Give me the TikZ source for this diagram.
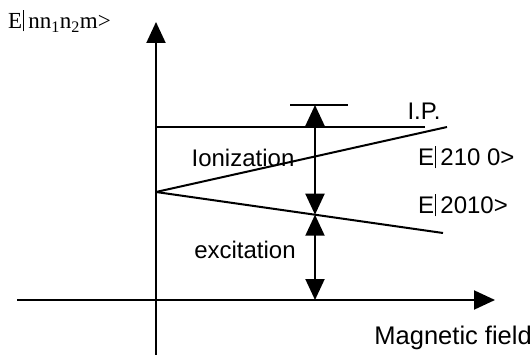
\documentclass[tikz,border=0pt]{standalone}
\usepackage{fontspec}
\setmainfont{Liberation Sans}
\newfontfamily\serifE{Liberation Serif}
\usetikzlibrary{arrows.meta}
\newcommand{\kbar}{\kern0.5pt\rule[-0.12em]{0.7pt}{0.95em}\kern1pt}
\tikzset{
  ln/.style={line width=2pt},
  tip/.style={-{Triangle[length=21pt,width=19pt]}},
  dtip/.style={{Triangle[length=21pt,width=19pt]}-{Triangle[length=21pt,width=19pt]}},
  lbl/.style={inner sep=0pt, font=\fontsize{24}{28}\selectfont}
}
\begin{document}
\begin{tikzpicture}[x=1pt,y=-1pt]
\useasboundingbox (0,0) rectangle (532,355);
% axes
\coordinate (vbot) at (156,355);
\coordinate (vtop) at (156,22);
\coordinate (hl) at (17,300);
\coordinate (hr) at (495,300);
\draw[ln,tip] (vbot) -- (vtop);
\draw[ln,tip] (hl) -- (hr);
% levels
\coordinate (O) at (156,192);
\coordinate (up) at (447,127);
\coordinate (lo) at (443,233);
\coordinate (ipl) at (156,127);
\coordinate (ipr) at (425,127);
\coordinate (barl) at (290,105);
\coordinate (barr) at (348,105);
\draw[ln] (ipl) -- (ipr);
\draw[ln] (O) -- (up);
\draw[ln] (O) -- (lo);
\draw[ln] (barl) -- (barr);
% arrows
\coordinate (atop) at (315,105);
\coordinate (amid) at (315,214.7);
\coordinate (abot) at (315,300);
\draw[ln,dtip] (atop) -- (amid);
\draw[ln,dtip] (amid) -- (abot);
% labels
\node[inner sep=0pt, anchor=west, font=\serifE\fontsize{23}{26}\selectfont] (ylab) at (8,21) {E\kbar\,nn\textsubscript{1}n\textsubscript{2}m>};
\node[lbl] (ip) at (424,111) {I.P.};
\node[lbl] (ion) at (243,158) {Ionization};
\node[lbl] (exc) at (245,250) {excitation};
\node[lbl, anchor=west] (e1) at (418,157) {E\kbar\,210 0>};
\node[lbl, anchor=west] (e2) at (418,205) {E\kbar\,2010>};
\node[inner sep=0pt, anchor=east, font=\fontsize{25.5}{28}\selectfont] (mf) at (532,338) {Magnetic field};
\end{tikzpicture}
\end{document}
